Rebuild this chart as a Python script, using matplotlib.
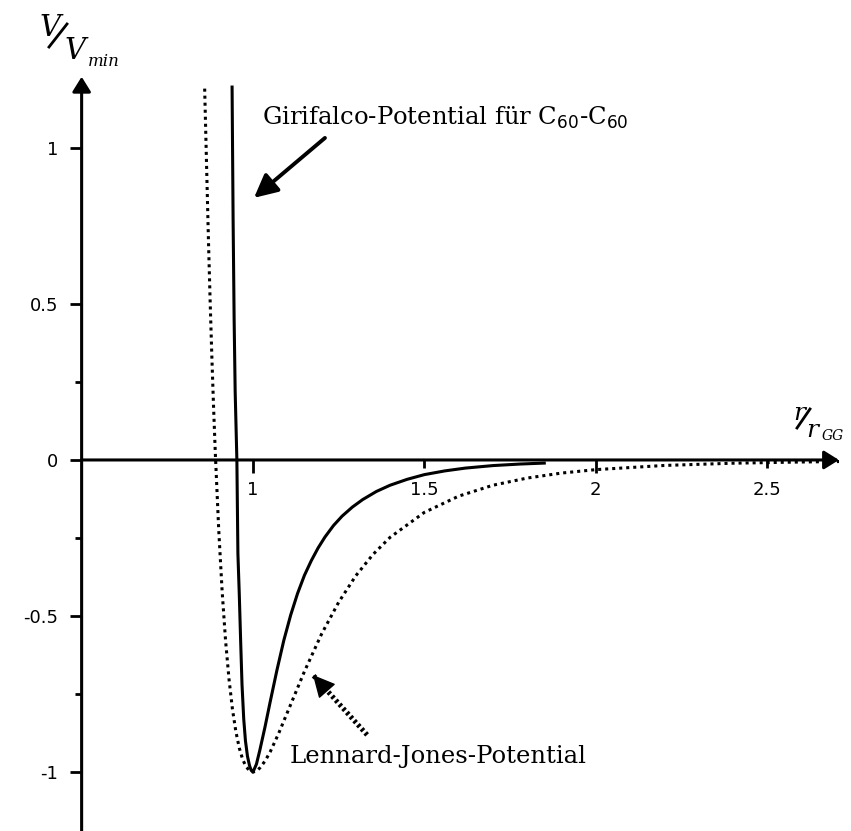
import numpy as np
import matplotlib
matplotlib.use('Agg')
import matplotlib.pyplot as plt
from matplotlib.lines import Line2D
from matplotlib.ticker import FixedLocator, FixedFormatter

# Girifalco-Potential (durchgezogen)
r_gir = [0.939, 0.942, 0.945, 0.948, 0.953, 0.956, 0.960, 0.964, 0.968, 0.973,
         0.978, 0.984, 0.990, 0.995, 1.000, 1.010, 1.020, 1.035, 1.050, 1.070,
         1.090, 1.110, 1.130, 1.150, 1.170, 1.190, 1.210, 1.235, 1.260, 1.290,
         1.320, 1.360, 1.400, 1.450, 1.500, 1.560, 1.620, 1.700, 1.780, 1.850]
v_gir = [1.195, 0.77, 0.45, 0.22, 0.0, -0.30, -0.43, -0.58, -0.72, -0.83,
         -0.90, -0.95, -0.98, -0.995, -1.0, -0.975, -0.93, -0.856, -0.776, -0.673,
         -0.578, -0.497, -0.428, -0.370, -0.323, -0.282, -0.247, -0.210, -0.180, -0.151,
         -0.127, -0.101, -0.081, -0.062, -0.047, -0.035, -0.026, -0.018, -0.013, -0.010]

# Lennard-Jones-Potential (gepunktet)
r_lj = [0.859, 0.865, 0.870, 0.875, 0.880, 0.885, 0.890, 0.900, 0.910, 0.920,
        0.930, 0.940, 0.950, 0.960, 0.970, 0.980, 0.990, 1.000, 1.010, 1.020,
        1.035, 1.050, 1.075, 1.100, 1.150, 1.200, 1.250, 1.300, 1.350, 1.400,
        1.500, 1.600, 1.700, 1.800, 1.900, 2.000, 2.200, 2.400, 2.600, 2.710]
v_lj = [1.19, 0.925, 0.706, 0.508, 0.330, 0.169, 0.024, -0.223, -0.421, -0.579,
        -0.702, -0.798, -0.870, -0.923, -0.960, -0.983, -0.996, -1.0, -0.997, -0.987,
        -0.965, -0.936, -0.876, -0.810, -0.678, -0.558, -0.456, -0.371, -0.303, -0.248,
        -0.168, -0.116, -0.081, -0.058, -0.042, -0.031, -0.0176, -0.0104, -0.0065, -0.005]

xticks_major = [1, 2]
xticks_minor = [1.5, 2.5]
yticks_major = [-1, -0.5, 0, 0.5, 1]
yticks_minor = [-0.75, -0.25, 0.25]

# Pfeile der Beschriftungen (Spitze, Ende)
gir_tip, gir_tail = (1.003, 0.84), (1.210, 1.032)
lj_tip, lj_tail = (1.175, -0.689), (1.333, -0.881)

W, H = 851, 831
fig = plt.figure(figsize=(W / 100, H / 100), dpi=100)
ax = fig.add_axes([0, 0, 1, 1])
ax.set_xlim(0.2618, 2.745)
ax.set_ylim(-1.189, 1.474)

def px(x, y):
    return x / W, 1 - y / H

# Kurven
ax.plot(r_gir, v_gir, color='black', lw=2.2, solid_joinstyle='round', zorder=3)
ax.plot(r_lj, v_lj, color='black', lw=2.2, ls=(0, (1, 1.3)), zorder=3)

# Achsen mit Pfeilen
for s in ax.spines.values():
    s.set_visible(False)
ax.spines['left'].set_position(('data', 0.5))
ax.spines['bottom'].set_position(('data', 0))
arr = dict(arrowstyle='-|>,head_length=0.45,head_width=0.28', mutation_scale=20,
           lw=2.2, color='black', shrinkA=0, shrinkB=0)
ax.annotate('', xy=(0.5, 1.228), xytext=(0.5, -1.2), arrowprops=arr, zorder=4)
ax.annotate('', xy=(2.71, 0), xytext=(0.5, 0), arrowprops=arr, zorder=4)

ax.xaxis.set_major_locator(FixedLocator(xticks_major))
ax.xaxis.set_minor_locator(FixedLocator(xticks_minor))
ax.xaxis.set_major_formatter(FixedFormatter([str(t) for t in xticks_major]))
ax.xaxis.set_minor_formatter(FixedFormatter([str(t) for t in xticks_minor]))
ax.yaxis.set_major_locator(FixedLocator(yticks_major))
ax.yaxis.set_minor_locator(FixedLocator(yticks_minor))
ax.yaxis.set_major_formatter(FixedFormatter([f'{t:g}' for t in yticks_major]))
ax.tick_params(axis='x', which='major', direction='out', length=9, width=2, pad=6,
               labelsize=13)
ax.tick_params(axis='x', which='minor', direction='out', length=6, width=2, pad=9,
               labelsize=13)
ax.tick_params(axis='y', which='major', direction='out', length=9, width=2, pad=8,
               labelsize=13)
ax.tick_params(axis='y', which='minor', direction='out', length=5, width=2)
for lab in ax.get_xticklabels(which='both') + ax.get_yticklabels():
    lab.set_family('DejaVu Sans')

# Achsenbeschriftung V/V_min
serif = dict(family='DejaVu Serif', style='italic', color='black')
fig.text(*px(40, 36), 'V', ha='left', va='baseline', fontsize=21, **serif)
fig.text(*px(65, 59), 'V', ha='left', va='baseline', fontsize=21, **serif)
fig.text(*px(88, 66), 'min', ha='left', va='baseline', fontsize=12, **serif)
fig.add_artist(Line2D([49 / W, 67 / W], [1 - 47 / H, 1 - 24 / H], lw=2, color='black'))

# r/r_GG
fig.text(*px(793, 420), 'r', ha='left', va='baseline', fontsize=18, **serif)
fig.text(*px(806, 437), 'r', ha='left', va='baseline', fontsize=18, **serif)
fig.text(*px(822, 440), 'GG', ha='left', va='baseline', fontsize=10, **serif)
fig.add_artist(Line2D([797 / W, 810 / W], [1 - 428 / H, 1 - 409 / H], lw=2, color='black'))

# Beschriftungen mit Pfeilen
ax.text(*px(262, 125), 'Girifalco-Potential für C$_{60}$-C$_{60}$',
        transform=fig.transFigure, ha='left', va='baseline', fontsize=17.5,
        family='DejaVu Serif')
ax.annotate('', xy=gir_tip, xytext=gir_tail,
            arrowprops=dict(arrowstyle='-|>,head_length=0.7,head_width=0.35',
                            mutation_scale=20, lw=2.8, color='black',
                            shrinkA=0, shrinkB=0))
ax.text(*px(290, 763), 'Lennard-Jones-Potential', transform=fig.transFigure,
        ha='left', va='baseline', fontsize=17.5, family='DejaVu Serif')
# gepunkteter Pfeilschaft, Spitze separat
ax.plot([lj_tail[0], lj_tip[0]], [lj_tail[1], lj_tip[1]], color='black', lw=3.6,
        ls=(0, (0.55, 0.55)), dash_capstyle='butt')
ax.annotate('', xy=lj_tip, xytext=(lj_tip[0] + 0.02, lj_tip[1] - 0.025),
            arrowprops=dict(arrowstyle='-|>,head_length=0.7,head_width=0.35',
                            mutation_scale=20, lw=1, color='black',
                            shrinkA=0, shrinkB=0))

fig.savefig('out.png', dpi=100)
